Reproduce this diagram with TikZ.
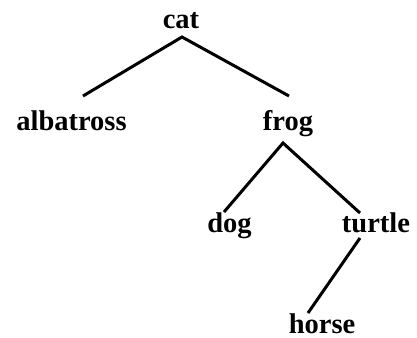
\documentclass[tikz,border=0pt]{standalone}
\usepackage{fontspec}
\setmainfont{Liberation Serif}
\usetikzlibrary{calc}
\tikzset{
  word/.style={anchor=base, inner sep=0pt, font=\fontsize{28.5}{30}\selectfont\bfseries},
  edge/.style={line width=3pt, line join=miter, line cap=butt}
}
\begin{document}
\begin{tikzpicture}[x=1pt, y=-1pt]
  \useasboundingbox (0,0) rectangle (417,337);
  % tree nodes
  \node[word] (cat)       at (181,29)   {cat};
  \node[word] (albatross) at (71.5,130) {albatross};
  \node[word] (frog)      at (288,130)  {frog};
  \node[word] (dog)       at (229.5,232){dog};
  \node[word] (turtle)    at (376,232)  {turtle};
  \node[word] (horse)     at (322,333)  {horse};
  % branches
  \draw[edge] ($(albatross.base)+(11.5,-34)$) -- ($(cat.base)+(1,8)$) -- ($(frog.base)+(1,-34)$);
  \draw[edge] ($(dog.base)+(-5.5,-20)$) -- ($(frog.base)+(-5,13)$) -- ($(turtle.base)+(-16,-19)$);
  \draw[edge] ($(turtle.base)+(-16,6)$) -- ($(horse.base)+(-14,-20)$);
\end{tikzpicture}
\end{document}
